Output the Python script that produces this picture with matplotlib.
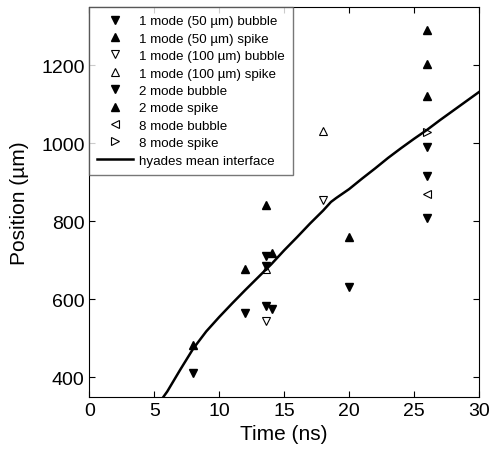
import matplotlib
matplotlib.use("Agg")
import matplotlib.pyplot as plt

plt.rcParams["font.family"] = ["Liberation Sans", "DejaVu Sans"]

# 1 mode (50 um)
m1_bub_t = [8, 12, 13.6, 20, 26]
m1_bub_y = [412, 566, 583, 632, 810]
m1_spk_t = [8, 12, 13.6, 20, 26]
m1_spk_y = [483, 677, 843, 759, 1123]
# 1 mode (100 um)
m1w_bub_t = [13.6, 18]
m1w_bub_y = [545, 855]
m1w_spk_t = [13.6, 18]
m1w_spk_y = [677, 1033]
# 2 mode
m2_bub_t = [13.6, 13.6, 14.05, 26, 26]
m2_bub_y = [712, 685, 576, 917, 990]
m2_spk_t = [14.05, 26, 26]
m2_spk_y = [719, 1203, 1290]
# 8 mode
m8_bub_t = [26]
m8_bub_y = [870]
m8_spk_t = [26]
m8_spk_y = [1030]

# hyades mean interface
hy_t = [5.7, 6, 7, 8, 9, 10, 11, 12, 13, 14, 15, 16, 17, 18, 18.6, 19, 20,
        21, 22, 23, 24, 25, 26, 27, 28, 29, 30]
hy_y = [350, 364, 420, 474, 518, 555, 590, 624, 657, 690, 726, 760, 795, 828, 850, 860, 883,
        910, 936, 963, 988, 1012, 1035, 1060, 1084, 1108, 1132]

fig = plt.figure(figsize=(4.91, 4.60), dpi=100)
ax = fig.add_axes([0.182, 0.135, 0.7936, 0.8476])

filled = dict(color="black", linestyle="none", markersize=6)
hollow = dict(color="black", markerfacecolor="white", linestyle="none",
              markersize=6, markeredgewidth=0.8)

ax.plot(m1_bub_t, m1_bub_y, marker="v", label="1 mode (50 µm) bubble", **filled)
ax.plot(m1_spk_t, m1_spk_y, marker="^", label="1 mode (50 µm) spike", **filled)
ax.plot(m1w_bub_t, m1w_bub_y, marker="v", label="1 mode (100 µm) bubble", **hollow)
ax.plot(m1w_spk_t, m1w_spk_y, marker="^", label="1 mode (100 µm) spike", **hollow)
ax.plot(m2_bub_t, m2_bub_y, marker="v", label="2 mode bubble", **filled)
ax.plot(m2_spk_t, m2_spk_y, marker="^", label="2 mode spike", **filled)
ax.plot(m8_bub_t, m8_bub_y, marker="<", label="8 mode bubble", **hollow)
ax.plot(m8_spk_t, m8_spk_y, marker=">", label="8 mode spike", **hollow)
ax.plot(hy_t, hy_y, color="black", linewidth=1.8, label="hyades mean interface")

ax.set_xlim(0, 30)
ax.set_ylim(350, 1350)
ax.set_xticks([0, 5, 10, 15, 20, 25, 30])
ax.set_yticks([400, 600, 800, 1000, 1200])
ax.tick_params(direction="in", top=True, right=True, length=4, labelsize=14)
ax.set_xlabel("Time (ns)", fontsize=15)
ax.set_ylabel("Position (µm)", fontsize=15)
ax.yaxis.set_label_coords(-0.155, 0.5)

leg = ax.legend(loc="upper left", bbox_to_anchor=(0, 1), fontsize=9.6,
                frameon=True, fancybox=False, borderaxespad=0,
                handlelength=2.7, labelspacing=0.38, borderpad=0.6,
                handletextpad=0.45)
leg.get_frame().set_edgecolor("#555555")
leg.get_frame().set_linewidth(1.0)

fig.savefig("out.png", dpi=100)
